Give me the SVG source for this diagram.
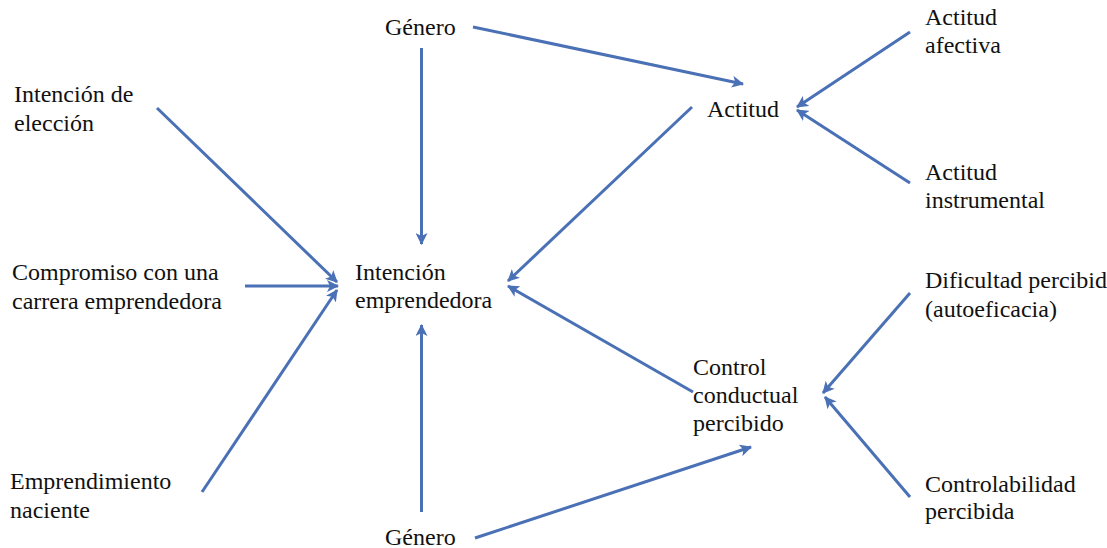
<svg xmlns="http://www.w3.org/2000/svg" width="1107" height="548" viewBox="0 0 1107 548">
<style>
text{font-family:"Liberation Serif","Times New Roman",serif;font-size:24px;fill:#111}
.c line{stroke:#4a70b5;stroke-width:3;marker-end:url(#ah)}
</style>
<defs>
<marker id="ah" markerUnits="userSpaceOnUse" markerWidth="12" markerHeight="12" viewBox="0 0 12 12" refX="11" refY="6" orient="auto">
<path d="M0,0 L12,6 L0,12 L3,6 Z" fill="#4a70b5"/>
</marker>
</defs>
<rect width="1107" height="548" fill="#fff"/>
<g class="c" id="connectors">
<line x1="157" y1="108" x2="337" y2="282"/>
<line x1="245" y1="286" x2="338" y2="286"/>
<line x1="202" y1="492" x2="337" y2="290"/>
<line x1="421.5" y1="48" x2="421.5" y2="244"/>
<line x1="421.5" y1="512" x2="421.5" y2="325"/>
<line x1="473" y1="27" x2="743" y2="84"/>
<line x1="475" y1="538" x2="751" y2="447"/>
<line x1="692" y1="107" x2="508" y2="281"/>
<line x1="693" y1="392" x2="508" y2="286"/>
<line x1="910" y1="32" x2="797" y2="107"/>
<line x1="910" y1="183" x2="797" y2="110"/>
<line x1="910" y1="293" x2="823" y2="393"/>
<line x1="910" y1="497" x2="825" y2="397"/>
</g>
<g id="genero-top"><text x="385" y="35">Género</text></g>
<g id="intencion-eleccion"><text x="14" y="102">Intención de</text><text x="14" y="131">elección</text></g>
<g id="compromiso"><text x="12" y="280">Compromiso con una</text><text x="12" y="309">carrera emprendedora</text></g>
<g id="emprendimiento"><text x="10" y="489">Emprendimiento</text><text x="10" y="518">naciente</text></g>
<g id="intencion-emprendedora"><text x="355" y="280">Intención</text><text x="355" y="308">emprendedora</text></g>
<g id="actitud"><text x="707" y="117">Actitud</text></g>
<g id="actitud-afectiva"><text x="925" y="25">Actitud</text><text x="925" y="53">afectiva</text></g>
<g id="actitud-instrumental"><text x="925" y="180">Actitud</text><text x="925" y="208">instrumental</text></g>
<g id="dificultad"><text x="925" y="288">Dificultad percibida</text><text x="925" y="317">(autoeficacia)</text></g>
<g id="control"><text x="693" y="375">Control</text><text x="693" y="403">conductual</text><text x="693" y="431">percibido</text></g>
<g id="controlabilidad"><text x="925" y="492">Controlabilidad</text><text x="925" y="519">percibida</text></g>
<g id="genero-bottom"><text x="385" y="545">Género</text></g>
</svg>
